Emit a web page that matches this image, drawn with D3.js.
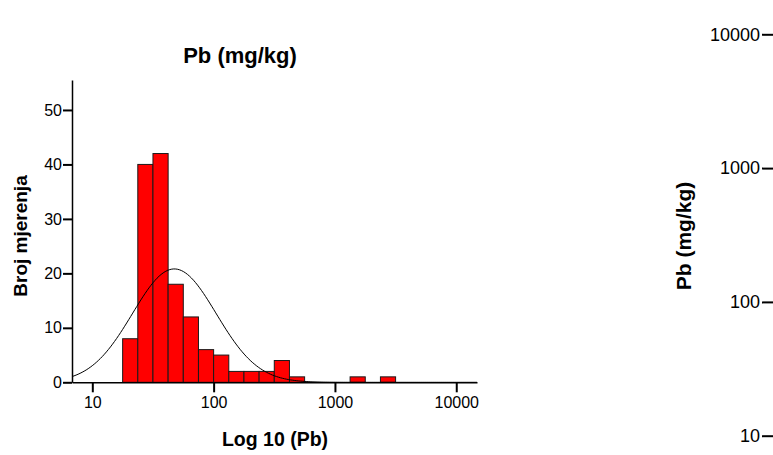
<!DOCTYPE html>
<html><head><meta charset="utf-8">
<script src="https://cdn.jsdelivr.net/npm/d3@7"></script>
<style>body{margin:0;background:#fff}svg{display:block}text{font-family:"Liberation Sans",Arial,sans-serif;fill:#000}</style>
</head><body><svg id="c" width="773" height="455"></svg>
<script>
// Histogram of log10(Pb); bins are in log10 units
const binStart = [1.25,1.375,1.5,1.625,1.75,1.875,2.0,2.125,2.25,2.375,2.5,2.625,3.125,3.375];
const binWidth = 0.125;
const counts   = [8,40,42,18,12,6,5,2,2,2,4,1,1,1];
const xTicks   = [10,100,1000,10000];
const yTicks   = [0,10,20,30,40,50];
const fitMean  = 1.676;   // normal fit (log10 units)
const fitSD    = 0.345;
const rightTicks = [10,100,1000,10000];

const svg = d3.select("#c");
const N = d3.sum(counts);

const x = d3.scaleLinear().domain([0.8326, 4.171]).range([72, 477]);
const y = d3.scaleLinear().domain([0, 55.5]).range([382.3, 80]);

// bars
svg.append("g").selectAll("rect").data(counts).join("rect")
  .attr("x", (d,i)=>x(binStart[i]))
  .attr("width", (d,i)=>x(binStart[i]+binWidth)-x(binStart[i]))
  .attr("y", d=>y(d))
  .attr("height", d=>y(0)-y(d))
  .attr("fill","#ff0000").attr("stroke","#1a1a1a").attr("stroke-width",1);

// normal curve
const xs = d3.range(0, 201).map(i => x.domain()[0] + (x.domain()[1]-x.domain()[0])*i/200);
const pdf = v => N*binWidth/(fitSD*Math.sqrt(2*Math.PI))*Math.exp(-0.5*((v-fitMean)/fitSD)**2);
svg.append("path").datum(xs)
  .attr("d", d3.line().x(v=>x(v)).y(v=>y(pdf(v))))
  .attr("fill","none").attr("stroke","#000").attr("stroke-width",1);

// y axis
const ya = svg.append("g").attr("transform","translate(72,0)")
  .call(d3.axisLeft(y).tickValues(yTicks).tickSize(9).tickPadding(1).tickSizeOuter(0));
ya.select(".domain").attr("stroke-width",1.5);
ya.selectAll(".tick line").attr("stroke-width",2);
ya.selectAll("text").style("font-size","16px").style("font-family","Liberation Sans, Arial");

// x axis
const xa = svg.append("g").attr("transform","translate(0,382.3)")
  .call(d3.axisBottom(x).tickValues(xTicks.map(v=>Math.log10(v))).tickFormat((d,i)=>String(xTicks[i])).tickSize(10).tickPadding(4).tickSizeOuter(0));
xa.select(".domain").attr("stroke-width",1.5);
xa.selectAll(".tick line").attr("stroke-width",2);
xa.selectAll("text").style("font-size","16px").style("font-family","Liberation Sans, Arial");

// titles
svg.append("text").attr("x",240).attr("y",63).attr("text-anchor","middle")
  .style("font-size","22px").style("font-weight","bold").text("Pb (mg/kg)");
svg.append("text").attr("transform","translate(27,236) rotate(-90)").attr("text-anchor","middle")
  .style("font-size","19px").style("font-weight","bold").text("Broj mjerenja");
svg.append("text").attr("x",275).attr("y",446).attr("text-anchor","middle")
  .style("font-size","19.5px").style("font-weight","bold").text("Log 10 (Pb)");

// right panel axis (log scale)
const yr = d3.scaleLog().domain([10,10000]).range([435.7, 34.3]);
const ra = svg.append("g").attr("transform","translate(773,0)")
  .call(d3.axisLeft(yr).tickValues(rightTicks).tickFormat(d3.format("d")).tickSize(11).tickPadding(2).tickSizeOuter(0));
ra.selectAll(".tick line").attr("stroke-width",2);
ra.selectAll("text").style("font-size","18px").style("font-family","Liberation Sans, Arial");
svg.append("text").attr("transform","translate(691,236) rotate(-90)").attr("text-anchor","middle")
  .style("font-size","21px").style("font-weight","bold").text("Pb (mg/kg)");
</script></body></html>
